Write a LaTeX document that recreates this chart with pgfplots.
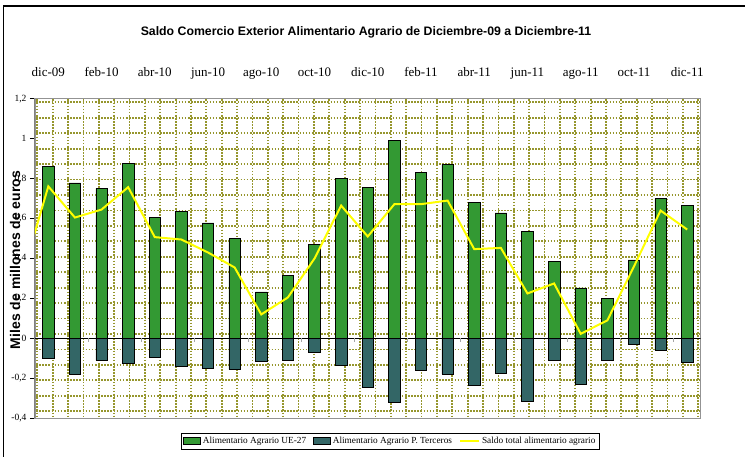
\documentclass[border=0pt]{standalone}
\usepackage{pgfplots}
\pgfplotsset{compat=1.18}
\usepackage{fontspec}
\setmainfont{Liberation Serif}
\newfontfamily\arial{Liberation Sans}
\definecolor{ueg}{RGB}{51,153,51}
\definecolor{pter}{RGB}{51,102,102}
\definecolor{gridol}{RGB}{150,150,45}
\definecolor{liney}{RGB}{255,255,0}
\pgfplotsset{
  barleg/.style={legend image code/.code={\draw[##1] (0pt,-3.5pt) rectangle (17pt,3.5pt);}},
  lineleg/.style={legend image code/.code={\draw[##1] (0pt,0pt) -- (19pt,0pt);}},
}
\begin{document}
\begin{tikzpicture}[x=1pt,y=1pt]
\useasboundingbox (0,0) rectangle (745,457);
\coordinate (P) at (35,38.7);
% outer frame
\draw[line width=1.2pt] (3.3,0) -- (3.3,451) -- (746,451);
% patterned plot-area background
\foreach \i in {0,...,43} {
  \draw[gridol, line width=1.8pt, dash pattern=on 1.6pt off 1.5pt] ({37.3+15.37*\i},{457-99.5}) -- ({37.3+15.37*\i},{457-418});
}
\foreach \j in {0,...,20} {
  \draw[gridol, line width=1.8pt, dash pattern=on 1.6pt off 1.5pt] (36,{457-(102.3+15.45*\j)}) -- (700,{457-(102.3+15.45*\j)});
}
\begin{axis}[
  at={(P)}, anchor=south west,
  scale only axis, width=665.5pt, height=319.6pt,
  xmin=-0.5, xmax=24.5, ymin=-0.4, ymax=1.2,
  axis line style={draw=gray!85, line width=1.2pt},
  ytick={-0.4,-0.2,0,0.2,0.4,0.6,0.8,1,1.2},
  yticklabels={{-0,4},{-0,2},{0},{0,2},{0,4},{0,6},{0,8},{1},{1,2}},
  ytick pos=left, ytick align=outside, major tick length=5pt,
  ytick style={black, line width=0.8pt},
  yticklabel style={font=\fontsize{9.5}{10}\selectfont},
  xtick={0,2,...,24},
  xticklabels={dic-09,feb-10,abr-10,jun-10,ago-10,oct-10,dic-10,feb-11,abr-11,jun-11,ago-11,oct-11,dic-11},
  xticklabel pos=upper,
  major x tick style={draw=none},
  xticklabel style={font=\fontsize{13}{15}\selectfont, anchor=base, yshift=17pt},
  ybar, bar width=11.5pt, bar shift=0pt,
  legend columns=3,
  legend style={at={(axis description cs:0.534,-0.071)}, anchor=center,
    draw=black, line width=0.9pt, font=\fontsize{9.3}{10}\selectfont,
    inner sep=2pt,
    /tikz/every even column/.append style={column sep=5pt}},
]
\addplot[ybar, bar shift=0pt, fill=ueg, draw=black, line width=0.6pt, barleg]
coordinates {(0,0.861)(1,0.778)(2,0.751)(3,0.875)(4,0.605)(5,0.635)(6,0.578)(7,0.50)(8,0.233)(9,0.317)(10,0.47)(11,0.80)(12,0.755)(13,0.99)(14,0.83)(15,0.87)(16,0.68)(17,0.628)(18,0.535)(19,0.385)(20,0.253)(21,0.20)(22,0.393)(23,0.70)(24,0.665)};
\addlegendentry{Alimentario Agrario UE-27}
\addplot[ybar, bar shift=0pt, fill=pter, draw=black, line width=0.6pt, barleg]
coordinates {(0,-0.10)(1,-0.178)(2,-0.11)(3,-0.125)(4,-0.094)(5,-0.14)(6,-0.152)(7,-0.155)(8,-0.114)(9,-0.11)(10,-0.072)(11,-0.137)(12,-0.245)(13,-0.318)(14,-0.16)(15,-0.178)(16,-0.235)(17,-0.175)(18,-0.313)(19,-0.11)(20,-0.232)(21,-0.11)(22,-0.03)(23,-0.06)(24,-0.122)};
\addlegendentry{Alimentario Agrario P. Terceros}
\addplot[sharp plot, draw=liney, line width=2pt, mark=none, lineleg]
coordinates {(-1,0.305)(0,0.761)(1,0.605)(2,0.645)(3,0.757)(4,0.507)(5,0.495)(6,0.43)(7,0.355)(8,0.12)(9,0.205)(10,0.40)(11,0.665)(12,0.51)(13,0.672)(14,0.672)(15,0.69)(16,0.447)(17,0.453)(18,0.225)(19,0.275)(20,0.023)(21,0.09)(22,0.36)(23,0.64)(24,0.545)};
\addlegendentry{Saldo total alimentario agrario}
\draw[black, line width=1pt] (rel axis cs:0,0) -- (rel axis cs:0,1);
\draw[black, line width=0.9pt] (axis cs:-0.5,0) -- (axis cs:24.5,0);
\pgfplotsinvokeforeach{1.5,3.5,5.5,7.5,9.5,11.5,13.5,15.5,17.5,19.5,21.5,23.5}{
  \draw[gray!70, line width=0.9pt] (axis cs:#1,0) -- ([yshift=-4pt]axis cs:#1,0);
}
\end{axis}
\node[rotate=90, font=\arial\bfseries\fontsize{14}{16}\selectfont] at (15,197) {Miles de millones de euros};
\node[font=\arial\bfseries\fontsize{12.3}{14}\selectfont, anchor=base] at (366,421.3) {Saldo Comercio Exterior Alimentario Agrario de Diciembre-09 a Diciembre-11};
\end{tikzpicture}
\end{document}
